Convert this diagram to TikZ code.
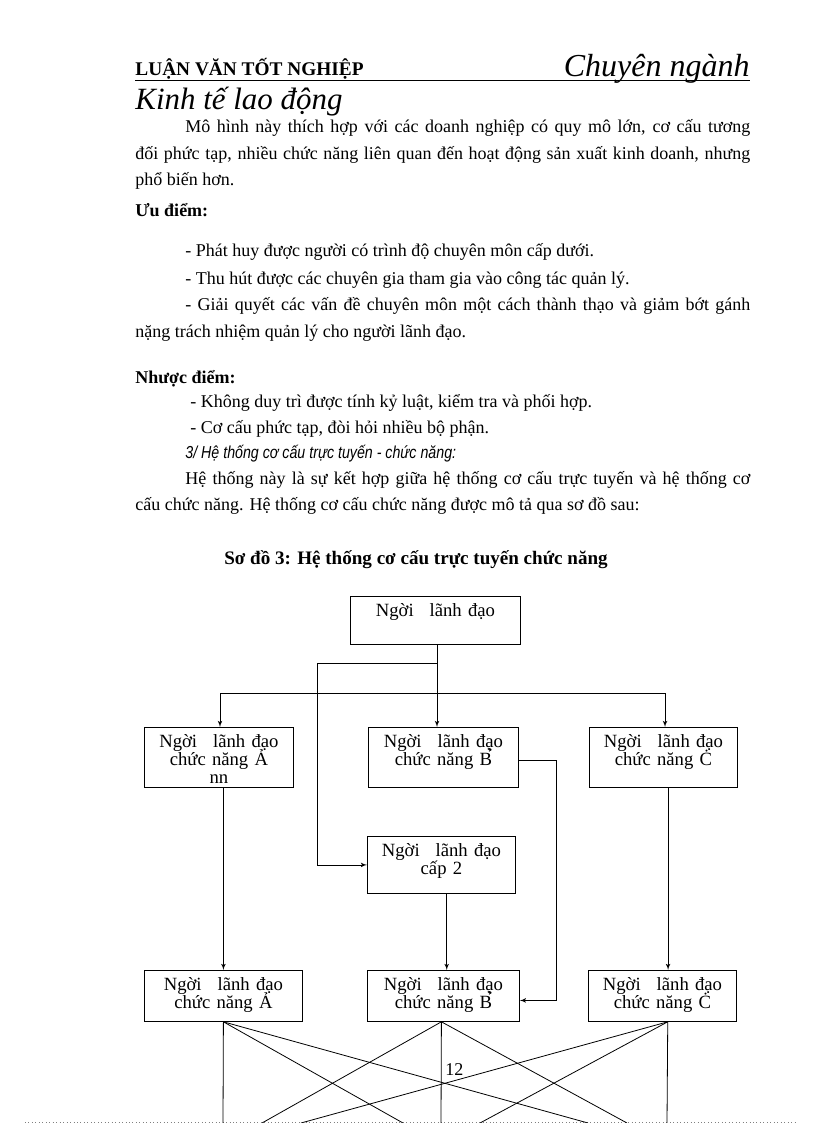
\documentclass[tikz,border=0pt]{standalone}
\usepackage{fontspec}
\setmainfont{Liberation Serif}
\newfontfamily\thinsans[FakeStretch=0.82]{Liberation Sans}
\usetikzlibrary{arrows}

\begin{document}
\begin{tikzpicture}[x=0.75pt,y=-0.75pt,>=latex',line width=0.6pt]
  \tikzstyle{every node}=[inner sep=0pt]
  \tikzstyle{line}=[anchor=base west,font=\fontsize{13.5}{16}\selectfont]
  \tikzstyle{box}=[draw,anchor=north west,align=center,text height=15.4pt,
                   font=\fontsize{14}{13.5}\selectfont]

  \useasboundingbox (0,0) rectangle (816,1123);

  % page head
  \node[line,font=\fontsize{14.5}{16}\selectfont\bfseries] (hleft) at (135,76) {LUẬN VĂN TỐT NGHIỆP};
  \node[line,anchor=base east,font=\fontsize{24}{28}\selectfont\itshape] (hright) at (750,77) {Chuyên ngành};
  \draw (135,80) -- (750,80);
  \node[line,font=\fontsize{23.2}{28}\selectfont\itshape] (hsub) at (135,110) {Kinh tế lao động};

  % text
  \node[line] (p1) at (185,133) {\makebox[423.75pt][s]{Mô hình này thích hợp với các doanh nghiệp có quy mô lớn, cơ cấu tương}};
  \node[line] (p2) at (135,160) {\makebox[461.25pt][s]{đối phức tạp, nhiều chức năng liên quan đến hoạt động sản xuất kinh doanh, nhưng}};
  \node[line] (p3) at (135,186) {phổ biến hơn.};
  \node[line,font=\fontsize{13.5}{16}\selectfont\bfseries] (pros) at (135,217) {Ưu điểm:};
  \node[line] (pro1) at (185,257) {- Phát huy được người có trình độ chuyên môn cấp dưới.};
  \node[line] (pro2) at (185,284) {- Thu hút được các chuyên gia tham gia vào công tác quản lý.};
  \node[line] (pro3) at (185,310) {\makebox[423.75pt][s]{- Giải quyết các vấn đề chuyên môn một cách thành thạo và giảm bớt gánh}};
  \node[line] (pro4) at (135,337) {nặng trách nhiệm quản lý cho người lãnh đạo.};
  \node[line,font=\fontsize{13.5}{16}\selectfont\bfseries] (cons) at (135,383) {Nhược điểm:};
  \node[line] (con1) at (190,407) {- Không duy trì được tính kỷ luật, kiểm tra và phối hợp.};
  \node[line] (con2) at (190,433) {- Cơ cấu phức tạp, đòi hỏi nhiều bộ phận.};
  \node[line,font=\fontsize{13}{15}\thinsans\itshape] (sec3) at (185,458) {3/ Hệ thống cơ cấu trực tuyến - chức năng:};
  \node[line] (q1) at (185,484) {\makebox[423.75pt][s]{Hệ thống này là sự kết hợp giữa hệ thống cơ cấu trực tuyến và hệ thống cơ}};
  \node[line] (q2) at (135,510) {cấu chức năng. Hệ thống cơ cấu chức năng được mô tả qua sơ đồ sau:};
  \node[line,anchor=base,font=\fontsize{14.3}{16}\selectfont\bfseries] (title) at (416,564) {Sơ đồ 3: Hệ thống cơ cấu trực tuyến chức năng};

  % chart
  \node[box,text width=127.5pt,text depth=20.6pt] (lead) at (350,596) {Ngời\hspace{12pt}lãnh đạo};
  \node[box,text width=111.75pt,text depth=29.6pt] (fA1) at (144,727) {Ngời\hspace{12pt}lãnh đạo\\chức năng \smash{Ả}\\nn};
  \node[box,text width=112.5pt,text depth=29.6pt] (fB1) at (368,727) {Ngời\hspace{12pt}lãnh đạo\\chức năng \smash{B̉}};
  \node[box,text width=111pt,text depth=29.6pt] (fC1) at (589,727) {Ngời\hspace{12pt}lãnh đạo\\chức năng \smash{Ċ}};
  \node[box,text width=111pt,text depth=27.35pt] (lv2) at (367,836) {Ngời\hspace{12pt}lãnh đạo\\cấp 2};
  \node[box,text width=118.5pt,text depth=22.85pt] (fA2) at (144,970) {Ngời\hspace{12pt}lãnh đạo\\chức năng \smash{Ả}};
  \node[box,text width=114pt,text depth=22.85pt] (fB2) at (367,970) {Ngời\hspace{12pt}lãnh đạo\\chức năng \smash{B̉}};
  \node[box,text width=111pt,text depth=22.85pt] (fC2) at (588,970) {Ngời\hspace{12pt}lãnh đạo\\chức năng \smash{Ċ}};

  \coordinate (tap) at (437,663);
  \coordinate (side) at (317,663);
  \coordinate (busL) at (220,693);
  \coordinate (busR) at (665,693);

  \draw[->] (lead.south -| tap) -- (fB1.north -| tap);
  \draw[->] (tap) -- (side) |- (lv2.west);
  \draw (busL) -- (busR);
  \draw[->] (busL) -- (fA1.north -| busL);
  \draw[->] (busR) -- (fC1.north -| busR);
  \draw[->] (fA1.south -| fA2.north) -- (fA2.north);
  \draw[->] ([xshift=4pt]lv2.south) -- ([xshift=4pt]lv2.south |- fB2.north);
  \draw[->] ([xshift=3.5pt]fC1.south) -- ([xshift=3.5pt]fC1.south |- fC2.north);
  \draw[->] ([yshift=-2.25pt]fB1.east) -- ++(38,0) |- ([yshift=-3.4pt]fB2.east);

  % page break and lines running on
  \draw[gray,dotted] (25,1122) -- (795,1122);
  \coordinate (eA1) at (223,1123);
  \coordinate (eA2) at (403,1123);
  \coordinate (eA3) at (588,1123);
  \coordinate (eB1) at (441,1123);
  \coordinate (eB2) at (262,1123);
  \coordinate (eB3) at (627,1123);
  \coordinate (eC1) at (667,1123);
  \coordinate (eC2) at (480,1123);
  \coordinate (eC3) at (301,1123);

  \path (fA2.south) edge (eA1) edge (eA2) edge (eA3)
        ([xshift=-1.5pt]fB2.south) edge (eB1) edge (eB2) edge (eB3)
        ([xshift=4pt]fC2.south) edge (eC1) edge (eC2) edge (eC3);

  \node[line] (pageno) at (445,1075) {12};
\end{tikzpicture}
\end{document}
